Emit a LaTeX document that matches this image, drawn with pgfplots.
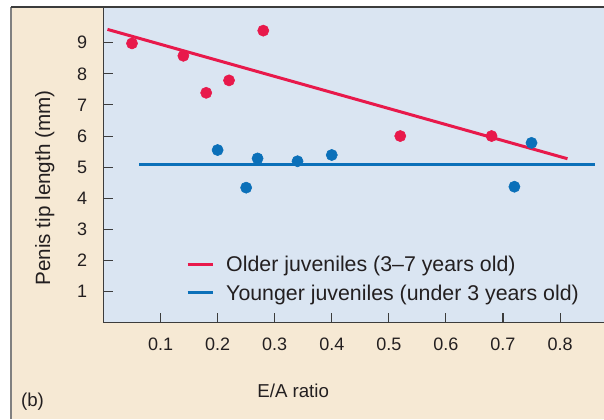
\documentclass[border=0pt]{standalone}
\usepackage{fontspec}
\setmainfont{Liberation Sans}
\usepackage{pgfplots}
\pgfplotsset{compat=1.18}
\definecolor{beige}{HTML}{F6E9D4}
\definecolor{plotbg}{HTML}{DAE5F2}
\definecolor{ored}{HTML}{E8194B}
\definecolor{yblue}{HTML}{0B70B9}
\definecolor{axgray}{HTML}{3C3C3C}
\definecolor{txt}{HTML}{231F20}
\begin{document}
\begin{tikzpicture}[x=1pt,y=1pt]
\path[use as bounding box] (0,0) rectangle (453,314.25);
\fill[beige] (8.25,0) rectangle (453,309);
\draw[gray, line width=0.8pt] (8.25,0) -- (8.25,309);
\begin{axis}[
  at={(77.6pt,72.3pt)}, anchor=south west,
  scale only axis, width=375.4pt, height=236pt,
  xmin=0, xmax=0.877, ymin=0, ymax=10.12,
  axis x line*=bottom, axis y line*=left,
  axis line style={axgray, line width=1.1pt},
  axis background/.style={fill=plotbg},
  tick align=inside,
  major tick length=7.5pt,
  tick style={axgray, line width=0.8pt},
  xtick={0.1,0.2,0.3,0.4,0.5,0.6,0.7,0.8},
  ytick={1,2,3,4,5,6,7,8,9},
  /pgf/number format/assume math mode=true,
  x tick label style={/pgf/number format/fixed, /pgf/number format/precision=1, /pgf/number format/fixed zerofill},
  ticklabel style={font=\fontsize{13.5}{16}\selectfont, text=txt, inner sep=0pt},
  xticklabel style={yshift=-11.25pt},
  yticklabel style={xshift=-12pt},
  xlabel={E/A ratio},
  ylabel={Penis tip length (mm)},
  xlabel style={font=\fontsize{14}{16}\selectfont, text=txt, at={(rel axis cs:0.379,-0.217)}, anchor=center, inner sep=0pt},
  ylabel style={font=\fontsize{15.5}{18}\selectfont, text=txt, at={(rel axis cs:-0.117,0.428)}, anchor=center, inner sep=0pt},
  legend style={at={(rel axis cs:0.1648,0.2127)}, anchor=north west, draw=none, fill=none, inner sep=0pt, row sep=8.65pt, column sep=9pt,
    nodes={inner sep=0pt, text height=12pt, text depth=0.6pt, font=\fontsize{16}{18}\selectfont, text=txt}},
  legend cell align=left,
  legend image code/.code={\draw[#1, line width=2.25pt] (0pt,0pt) -- (18.75pt,0pt);},
  clip=false,
]
\addplot[ored, line width=2.25pt] coordinates {(0.007,9.43) (0.813,5.27)};
\addlegendentry{Older juveniles (3--7 years old)}
\addplot[yblue, line width=2.25pt] coordinates {(0.063,5.07) (0.861,5.07)};
\addlegendentry{Younger juveniles (under 3 years old)}
\addplot[only marks, mark=*, mark size=4.2pt, color=ored, forget plot] coordinates {
 (0.05,8.98) (0.14,8.58) (0.18,7.39) (0.22,7.79) (0.28,9.39) (0.52,6.0) (0.68,6.0)};
\addplot[only marks, mark=*, mark size=4.2pt, color=yblue, forget plot] coordinates {
 (0.20,5.55) (0.25,4.34) (0.27,5.28) (0.34,5.19) (0.40,5.39) (0.72,4.37) (0.75,5.78)};
\end{axis}
\draw[axgray, line width=1.1pt] (8.25,309) -- (453,309);
\node[font=\fontsize{14}{16}\selectfont, text=txt, inner sep=0pt] at (24.4,12.75) {(b)};
\end{tikzpicture}
\end{document}
